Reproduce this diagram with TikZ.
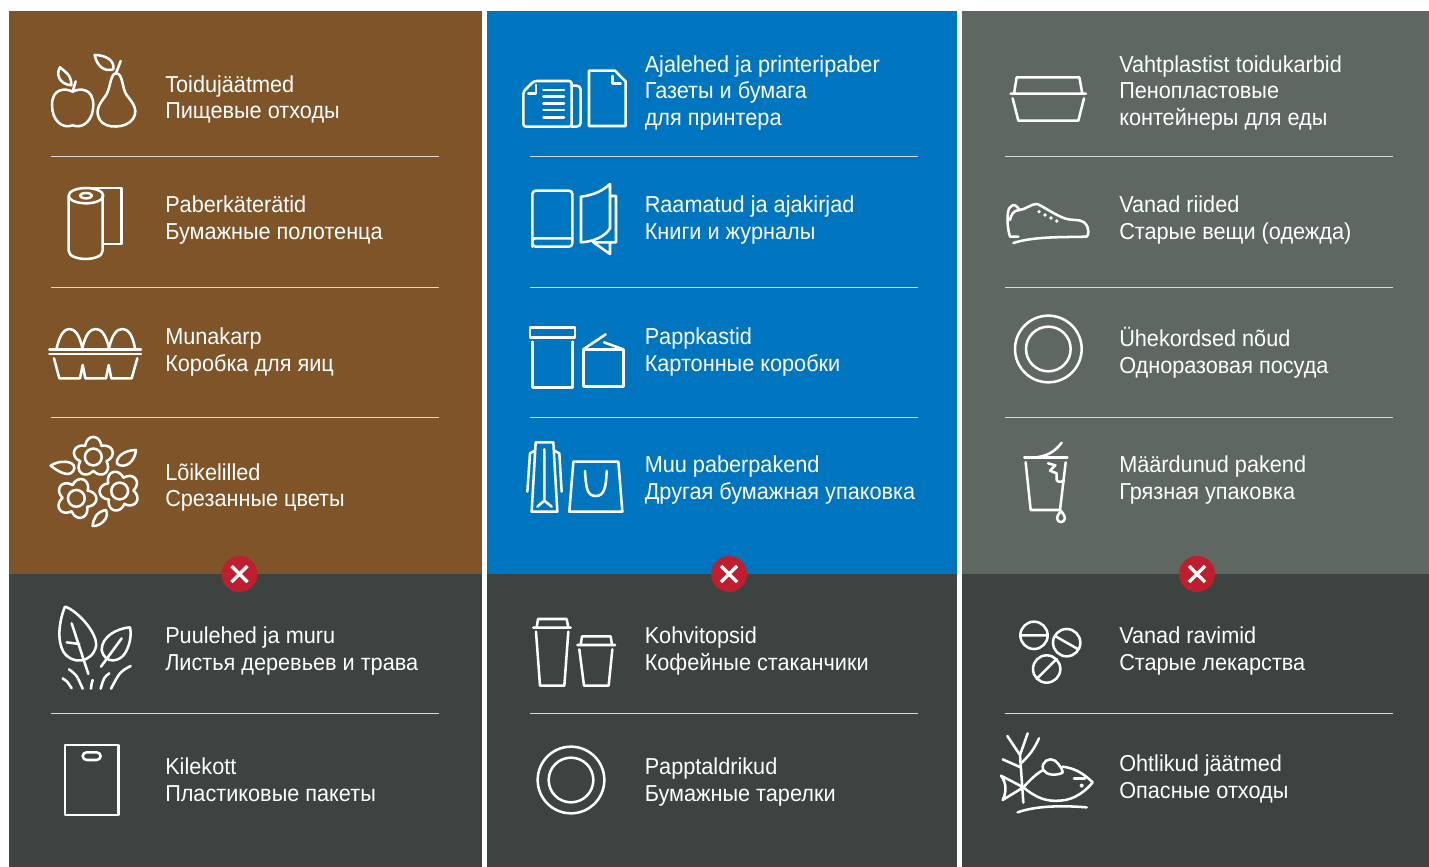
\documentclass[tikz,border=0pt]{standalone}
\usepackage{fontspec}
\setmainfont[FakeStretch=.94]{Liberation Sans}
\definecolor{cbrown}{HTML}{7E5428}
\definecolor{cblue}{HTML}{0075BF}
\definecolor{cgrey}{HTML}{5F6763}
\definecolor{cdark}{HTML}{3D4341}
\definecolor{cred}{HTML}{BE1E2D}
\tikzset{
 lbl/.style={anchor=base west,inner sep=0pt,text=white,font=\fontsize{17.3}{20}\selectfont},
 rule/.style={draw=white!85!black,line width=.75pt},
 ico/.style={draw=white,line width=1.9pt,line cap=round,line join=round},
 zm/.style={x=.25pt,y=-.25pt},
}
\newcommand\lab[4]{\node[lbl] (#1) at (#2,#3) {#4};}
\newcommand\flower[4]{% cx cy phase radius
 \draw[ico] plot[domain=0:360,samples=150] ({#1+#4*(.68+.32*abs(cos(2.5*(\x+#3))))*cos(\x)},{#2+#4*(.68+.32*abs(cos(2.5*(\x+#3))))*sin(\x)}) -- cycle;
 \draw[ico] (#1,#2) circle[radius=#4*.42];
}
\newcommand\xmark[2]{
 \fill[cred] (#1,#2) circle[radius=18];
 \draw[white,line width=2.6pt] (#1-8,#2-8) -- (#1+8,#2+8) (#1-8,#2+8) -- (#1+8,#2-8);
}
\begin{document}
\begin{tikzpicture}[x=.75pt,y=-.75pt]
\useasboundingbox (0,0) rectangle (1429,867);
\fill[white] (0,0) rectangle (1429,867);
% panels
\fill[cbrown] (9,11) rectangle (482,574);
\fill[cblue] (487,11) rectangle (957,574);
\fill[cgrey] (962,11) rectangle (1429,574);
\fill[cdark] (9,574) rectangle (482,867);
\fill[cdark] (487,574) rectangle (957,867);
\fill[cdark] (962,574) rectangle (1429,867);
% rules
\foreach \xa/\xb in {51/439,530/918,1005/1393}{
 \foreach \yy in {156.5,287.5,417.5,713.5}{ \draw[rule] (\xa,\yy) -- (\xb,\yy); }
}
% marks
\xmark{239.5}{574}
\xmark{729}{574}
\xmark{1197}{574}
% labels col 1
\lab{a1}{165}{92.5}{Toidujäätmed}
\lab{a2}{165}{118}{Пищевые отходы}
\lab{b1}{165}{212}{Paberkäterätid}
\lab{b2}{165}{239}{Бумажные полотенца}
\lab{c1}{165}{344}{Munakarp}
\lab{c2}{165}{371}{Коробка для яиц}
\lab{d1}{165}{480}{Lõikelilled}
\lab{d2}{165}{506}{Срезанные цветы}
\lab{e1}{165}{643}{Puulehed ja muru}
\lab{e2}{165}{670}{Листья деревьев и трава}
\lab{f1}{165}{774}{Kilekott}
\lab{f2}{165}{801}{Пластиковые пакеты}
% labels col 2
\lab{g1}{644.5}{72.5}{Ajalehed ja printeripaber}
\lab{g2}{644.5}{98.5}{Газеты и бумага}
\lab{g3}{644.5}{125.5}{для принтера}
\lab{h1}{644.5}{212}{Raamatud ja ajakirjad}
\lab{h2}{644.5}{239}{Книги и журналы}
\lab{i1}{644.5}{344}{Pappkastid}
\lab{i2}{644.5}{371}{Картонные коробки}
\lab{j1}{644.5}{472}{Muu paberpakend}
\lab{j2}{644.5}{499}{Другая бумажная упаковка}
\lab{k1}{644.5}{643}{Kohvitopsid}
\lab{k2}{644.5}{670}{Кофейные стаканчики}
\lab{l1}{644.5}{774}{Papptaldrikud}
\lab{l2}{644.5}{801}{Бумажные тарелки}
% labels col 3
\lab{m1}{1119}{72.5}{Vahtplastist toidukarbid}
\lab{m2}{1119}{98.5}{Пенопластовые}
\lab{m3}{1119}{125.5}{контейнеры для еды}
\lab{n1}{1119}{212}{Vanad riided}
\lab{n2}{1119}{239}{Старые вещи (одежда)}
\lab{o1}{1119}{346}{Ühekordsed nõud}
\lab{o2}{1119}{373}{Одноразовая посуда}
\lab{p1}{1119}{472}{Määrdunud pakend}
\lab{p2}{1119}{499}{Грязная упаковка}
\lab{q1}{1119}{643}{Vanad ravimid}
\lab{q2}{1119}{670}{Старые лекарства}
\lab{r1}{1119}{771}{Ohtlikud jäätmed}
\lab{r2}{1119}{798}{Опасные отходы}
% ---- icons col 1 top
\begin{scope}[shift={(30,40)},zm]
 \draw[ico] (128,155) .. controls (105,143) and (66,145) .. (66,195) .. controls (66,240) and (95,268) .. (128,256) .. controls (160,268) and (190,240) .. (190,195) .. controls (190,145) and (150,143) .. (128,155) -- cycle;
 \draw[ico] (128,155) -- (137,124);
 \draw[ico] (90,82) .. controls (78,100) and (85,132) .. (124,136) .. controls (125,105) and (105,95) .. (90,82) -- cycle;
 \draw[ico] (258,100) .. controls (240,100) and (242,150) .. (225,170) .. controls (205,195) and (195,215) .. (210,240) .. controls (225,267) and (290,267) .. (310,235) .. controls (328,205) and (300,180) .. (290,165) .. controls (275,145) and (280,100) .. (258,100) -- cycle;
 \draw[ico] (258,100) -- (272,63);
 \draw[ico] (194,45) .. controls (200,75) and (220,97) .. (250,88) .. controls (255,60) and (225,45) .. (194,45) -- cycle;
 % towel
 \draw[ico] (168,467) ellipse[x radius=52,y radius=23];
 \draw[ico] (168,467) ellipse[x radius=18,y radius=8];
 \draw[ico] (116,467) -- (116,632) .. controls (116,665) and (218,665) .. (218,632) -- (218,467);
 \draw[ico] (170,444) -- (275,444) -- (275,612) -- (218,612);
\end{scope}
\begin{scope}[shift={(30,310)},zm]
 % eggs
 \draw[ico] (58,118) -- (333,118) (58,132) -- (333,132);
 \draw[ico] (80,115) .. controls (90,70) and (105,57) .. (118,57) .. controls (132,57) and (148,70) .. (157,115);
 \draw[ico] (157,115) .. controls (167,70) and (182,57) .. (197,57) .. controls (212,57) and (227,70) .. (237,115);
 \draw[ico] (237,115) .. controls (247,70) and (262,57) .. (277,57) .. controls (292,57) and (307,70) .. (315,115);
 \draw[ico] (72,145) -- (88,205) -- (150,205) -- (158,165) -- (166,205) -- (228,205) -- (236,165) -- (244,205) -- (305,205) -- (322,145);
 % flowers
 \flower{190}{441}{90}{60}
 \flower{139}{565}{70}{60}
 \flower{269}{543}{110}{60}
 \draw[ico] (62,467) .. controls (85,450) and (135,450) .. (133,475) .. controls (125,505) and (90,490) .. (62,467) -- cycle;
 \draw[ico] (318,420) .. controls (280,420) and (255,445) .. (262,462) .. controls (285,478) and (315,455) .. (318,420) -- cycle;
 \draw[ico] (188,648) .. controls (210,650) and (240,625) .. (228,600) .. controls (200,605) and (190,625) .. (188,648) -- cycle;
\end{scope}
\begin{scope}[shift={(30,590)},zm]
 \draw[ico] (105,50) .. controls (88,90) and (80,150) .. (100,185) .. controls (125,225) and (185,220) .. (198,170) .. controls (205,130) and (140,60) .. (105,50) -- cycle;
 \draw[ico] (125,100) -- (175,252) (110,157) -- (148,162);
 \draw[ico] (300,112) .. controls (260,115) and (215,140) .. (215,180) .. controls (225,225) and (270,215) .. (285,190) .. controls (300,165) and (305,135) .. (300,112) -- cycle;
 \draw[ico] (275,145) -- (213,230);
 \draw[ico] (98,265) .. controls (110,272) .. (125,295);
 \draw[ico] (117,238) .. controls (140,255) .. (158,296);
 \draw[ico] (188,270) .. controls (185,280) .. (183,296);
 \draw[ico] (238,250) .. controls (222,262) .. (212,296);
 \draw[ico] (302,228) .. controls (270,245) .. (243,296);
 % bag
 \draw[ico] (105,465) rectangle (265,675);
 \draw[ico,rounded corners=3pt] (158,487) rectangle (212,510);
\end{scope}
% ---- col 2
\begin{scope}[shift={(510,50)},zm]
 \draw[ico,rounded corners=2pt] (185,93) -- (72,93) -- (40,125) -- (40,230) -- (185,230) -- cycle;
 \draw[ico] (55,130) -- (78,130) -- (78,105);
 \foreach \yy in {120,140,160,180,202}{ \draw[ico] (100,\yy) -- (162,\yy); }
 \draw[ico,rounded corners=3pt] (185,107) -- (212,107) -- (212,230) -- (185,230);
 \draw[ico] (237,62) -- (315,62) -- (347,95) -- (347,228) -- (237,228) -- cycle;
 \draw[ico] (308,78) -- (308,100) -- (332,100);
 % books
 \draw[ico,rounded corners=2.5pt] (67,422) rectangle (187,590);
 \draw[ico,rounded corners=2pt] (187,565) -- (67,565) -- (67,590);
 \draw[ico] (213,440) .. controls (255,435) and (280,420) .. (300,402) -- (300,535) .. controls (285,560) and (250,575) .. (213,577) -- cycle;
 \draw[ico] (300,438) -- (318,438) -- (318,577) -- (250,577) -- (300,612) -- (300,578);
\end{scope}
\begin{scope}[shift={(510,310)},zm]
 \draw[ico] (60,52) rectangle (195,82);
 \draw[ico] (67,95) -- (67,232) -- (188,232) -- (188,95);
 \draw[ico] (220,118) rectangle (340,230);
 \draw[ico] (220,118) -- (287,73) (282,97) -- (340,118);
 \draw[ico] (65,605) -- (77,397) -- (130,397) -- (142,605) -- cycle;
 \draw[ico] (103,418) -- (103,572) (82,590) -- (103,572) -- (125,590);
 \draw[ico] (52,545) -- (60,430) -- (72,423) (155,545) -- (148,430) -- (135,423);
 \draw[ico] (178,605) -- (190,455) -- (325,455) -- (337,605) -- cycle;
 \draw[ico] (225,483) .. controls (228,530) and (230,558) .. (257,558) .. controls (284,558) and (288,530) .. (290,483);
\end{scope}
\begin{scope}[shift={(510,600)},zm]
 \draw[ico] (70,83) -- (182,83) (80,83) -- (84,57) -- (170,57) -- (175,83);
 \draw[ico] (78,95) -- (90,257) -- (163,257) -- (175,95);
 \draw[ico] (202,135) -- (315,135) (212,135) -- (216,109) -- (302,109) -- (306,135);
 \draw[ico] (208,148) -- (222,257) -- (296,257) -- (307,148);
 \draw[ico] (183,540) circle[radius=100];
 \draw[ico] (183,540) circle[radius=67];
\end{scope}
% ---- col 3
\begin{scope}[shift={(990,60)},zm]
 \draw[ico] (62,101) -- (288,101) (72,101) -- (80,52) -- (268,52) -- (277,101);
 \draw[ico] (68,115) -- (85,182) -- (265,182) -- (282,115);
 % shoe
 \draw[ico] (85,530) -- (60,530) .. controls (50,500) and (50,450) .. (60,442) .. controls (70,430) and (80,435) .. (88,450) .. controls (105,450) and (125,430) .. (142,432) .. controls (170,445) and (205,472) .. (235,478) .. controls (260,482) and (280,475) .. (292,500) .. controls (298,520) and (295,530) .. (285,531);
 \draw[ico] (60,480) .. controls (62,470) and (68,450) .. (88,450);
 \draw[ico] (70,549) .. controls (130,530) and (200,532) .. (290,530);
 \foreach \xx/\yy in {147/455,165/465,183/474,200/483}{ \fill[white] (\xx,\yy) circle[radius=5.5]; }
\end{scope}
\begin{scope}[shift={(990,310)},zm]
 \draw[ico] (175,117) circle[radius=100];
 \draw[ico] (175,117) circle[radius=67];
 \draw[ico] (103,443) -- (232,443);
 \draw[ico] (130,443) .. controls (170,440) and (195,425) .. (215,398);
 \draw[ico] (107,457) -- (122,600) -- (210,600) -- (227,457);
 \draw[ico] (174,460) -- (196,466) -- (180,482) -- (200,490) -- (200,510) .. controls (203,517) and (215,517) .. (222,513);
 \draw[ico] (213,602) .. controls (205,615) and (200,620) .. (201,625) .. controls (203,640) and (223,640) .. (225,625) .. controls (226,620) and (221,615) .. (213,602) -- cycle;
\end{scope}
\begin{scope}[shift={(990,610)},zm]
 \draw[ico] (132,76) circle[radius=41] (91,76) -- (173,76);
 \draw[ico] (230,98) circle[radius=41] (195,78) -- (265,118);
 \draw[ico] (170,177) circle[radius=41] (140,207) -- (200,147);
 % fish
 \draw[ico] (90,435) -- (100,578);
 \draw[ico] (52,378) -- (90,435) -- (113,370);
 \draw[ico] (147,385) .. controls (137,405) and (130,425) .. (93,460);
 \draw[ico] (38,448) -- (92,472);
 \draw[ico] (100,532) -- (33,497) .. controls (50,520) and (50,545) .. (38,570) -- (100,532);
 \draw[ico] (100,532) .. controls (140,565) and (170,575) .. (210,572) .. controls (255,570) and (290,540) .. (308,517) .. controls (280,490) and (255,475) .. (218,470);
 \draw[ico] (100,532) .. controls (120,510) and (140,490) .. (160,480);
 \draw[ico] (160,480) .. controls (150,455) and (180,440) .. (195,452) .. controls (210,465) and (218,480) .. (218,488) .. controls (200,497) and (170,497) .. (160,480) -- cycle;
 \draw[ico] (252,505) -- (285,505);
 \fill[white] (275,527) circle[radius=6];
 \draw[ico] (83,607) .. controls (130,590) and (200,585) .. (290,592);
\end{scope}
\end{tikzpicture}
\end{document}
